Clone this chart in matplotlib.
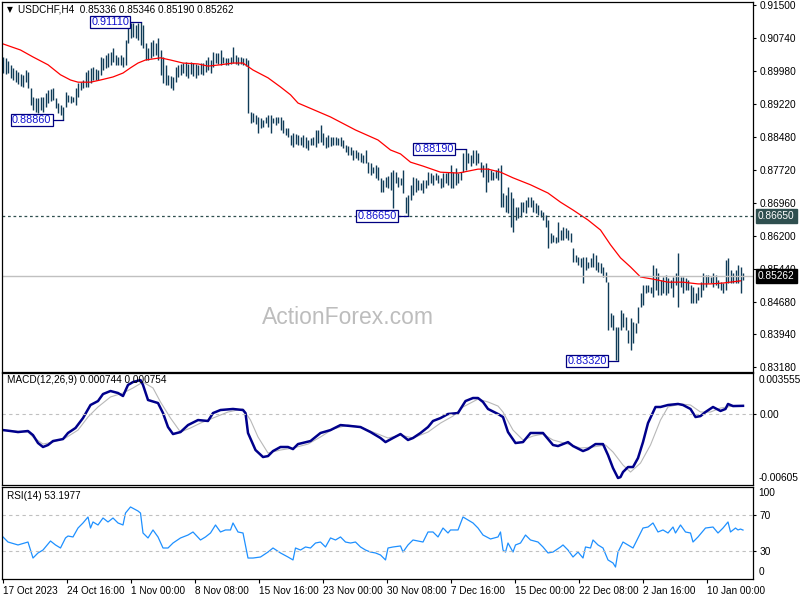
import numpy as np
import matplotlib
matplotlib.use('Agg')
import matplotlib.pyplot as plt
import matplotlib.transforms as mtrans

plt.rcParams['font.family'] = ['Liberation Sans', 'DejaVu Sans']

symbol = 'USDCHF,H4'
last_ohlc = [0.85336, 0.85346, 0.85190, 0.85262]

# H4 bars, high / low
highs = [0.9031, 0.9029, 0.9022, 0.9013, 0.9006, 0.9001, 0.8996, 0.8992, 0.8990, 0.9001,
         0.8996, 0.8960, 0.8939, 0.8937, 0.8937, 0.8939, 0.8939, 0.8948, 0.8955, 0.8957,
         0.8960, 0.8937, 0.8925, 0.8920, 0.8916, 0.8950, 0.8944, 0.8941, 0.8939, 0.8960,
         0.8971, 0.8973, 0.8978, 0.8996, 0.9001, 0.9006, 0.9008, 0.9003, 0.9001, 0.9031,
         0.9029, 0.9036, 0.9040, 0.9042, 0.9052, 0.9036, 0.9031, 0.9036, 0.9031, 0.9070,
         0.9105, 0.9109, 0.9109, 0.9105, 0.9109, 0.9111, 0.9105, 0.9063, 0.9052, 0.9065,
         0.9070, 0.9063, 0.9075, 0.9047, 0.9031, 0.9013, 0.8990, 0.8987, 0.8985, 0.9008,
         0.9013, 0.9015, 0.9017, 0.9019, 0.9015, 0.9019, 0.9017, 0.9015, 0.9013, 0.9017,
         0.9017, 0.9024, 0.9031, 0.9024, 0.9042, 0.9040, 0.9040, 0.9047, 0.9031, 0.9029,
         0.9029, 0.9031, 0.9054, 0.9036, 0.9031, 0.9031, 0.9029, 0.9029, 0.9024, 0.8904,
         0.8902, 0.8897, 0.8893, 0.8891, 0.8886, 0.8893, 0.8897, 0.8897, 0.8891, 0.8893,
         0.8893, 0.8893, 0.8886, 0.8868, 0.8868, 0.8852, 0.8856, 0.8854, 0.8852, 0.8847,
         0.8852, 0.8847, 0.8840, 0.8845, 0.8847, 0.8863, 0.8863, 0.8875, 0.8856, 0.8847,
         0.8852, 0.8847, 0.8847, 0.8847, 0.8845, 0.8847, 0.8840, 0.8829, 0.8826, 0.8824,
         0.8817, 0.8817, 0.8812, 0.8810, 0.8806, 0.8817, 0.8789, 0.8787, 0.8778, 0.8782,
         0.8778, 0.8753, 0.8748, 0.8755, 0.8757, 0.8766, 0.8771, 0.8766, 0.8755, 0.8753,
         0.8771, 0.8709, 0.8714, 0.8737, 0.8755, 0.8753, 0.8748, 0.8741, 0.8748, 0.8748,
         0.8766, 0.8764, 0.8760, 0.8764, 0.8760, 0.8753, 0.8764, 0.8764, 0.8766, 0.8782,
         0.8766, 0.8776, 0.8764, 0.8766, 0.8810, 0.8819, 0.8810, 0.8806, 0.8817, 0.8817,
         0.8810, 0.8789, 0.8782, 0.8787, 0.8776, 0.8771, 0.8766, 0.8771, 0.8776, 0.8782,
         0.8718, 0.8714, 0.8732, 0.8720, 0.8707, 0.8686, 0.8686, 0.8697, 0.8697, 0.8702,
         0.8709, 0.8709, 0.8702, 0.8695, 0.8691, 0.8679, 0.8674, 0.8667, 0.8656, 0.8626,
         0.8622, 0.8617, 0.8651, 0.8633, 0.8640, 0.8638, 0.8633, 0.8626, 0.8592, 0.8576,
         0.8571, 0.8569, 0.8571, 0.8571, 0.8559, 0.8569, 0.8580, 0.8576, 0.8559, 0.8557,
         0.8548, 0.8536, 0.8513, 0.8442, 0.8438, 0.8410, 0.8410, 0.8449, 0.8442, 0.8433,
         0.8403, 0.8431, 0.8421, 0.8419, 0.8456, 0.8488, 0.8507, 0.8507, 0.8507, 0.8502,
         0.8553, 0.8546, 0.8534, 0.8518, 0.8525, 0.8530, 0.8523, 0.8518, 0.8525, 0.8534,
         0.8580, 0.8525, 0.8525, 0.8523, 0.8518, 0.8507, 0.8502, 0.8488, 0.8502, 0.8513,
         0.8534, 0.8530, 0.8530, 0.8525, 0.8534, 0.8530, 0.8518, 0.8513, 0.8511, 0.8564,
         0.8569, 0.8541, 0.8534, 0.8541, 0.8553, 0.8548, 0.85346]
lows = [0.8994, 0.8992, 0.8994, 0.8983, 0.8978, 0.8973, 0.8969, 0.8964, 0.8962, 0.8973,
        0.8960, 0.8920, 0.8909, 0.8904, 0.8902, 0.8909, 0.8904, 0.8916, 0.8925, 0.8930,
        0.8932, 0.8914, 0.8902, 0.8897, 0.8886, 0.8916, 0.8927, 0.8925, 0.8927, 0.8920,
        0.8939, 0.8955, 0.8960, 0.8962, 0.8962, 0.8971, 0.8978, 0.8978, 0.8978, 0.8990,
        0.9001, 0.9006, 0.9008, 0.9013, 0.9019, 0.9013, 0.9013, 0.9013, 0.9008, 0.9013,
        0.9063, 0.9075, 0.9077, 0.9075, 0.9070, 0.9058, 0.9052, 0.9024, 0.9024, 0.9029,
        0.9033, 0.9036, 0.9024, 0.8990, 0.8971, 0.8967, 0.8967, 0.8960, 0.8955, 0.8973,
        0.8985, 0.8990, 0.8994, 0.8987, 0.8983, 0.8992, 0.8987, 0.8983, 0.8990, 0.8992,
        0.8990, 0.8996, 0.9001, 0.8994, 0.9008, 0.9017, 0.9015, 0.9013, 0.9017, 0.9013,
        0.9013, 0.9015, 0.9017, 0.9015, 0.9013, 0.9015, 0.9013, 0.9010, 0.8902, 0.8879,
        0.8881, 0.8877, 0.8856, 0.8868, 0.8870, 0.8879, 0.8870, 0.8856, 0.8879, 0.8875,
        0.8879, 0.8863, 0.8856, 0.8852, 0.8847, 0.8829, 0.8824, 0.8831, 0.8829, 0.8829,
        0.8824, 0.8822, 0.8817, 0.8829, 0.8829, 0.8824, 0.8833, 0.8835, 0.8829, 0.8822,
        0.8824, 0.8826, 0.8829, 0.8829, 0.8829, 0.8826, 0.8822, 0.8812, 0.8806, 0.8806,
        0.8794, 0.8799, 0.8794, 0.8789, 0.8787, 0.8787, 0.8764, 0.8760, 0.8764, 0.8753,
        0.8748, 0.8720, 0.8720, 0.8732, 0.8730, 0.8725, 0.8684, 0.8741, 0.8732, 0.8737,
        0.8718, 0.8672, 0.8665, 0.8702, 0.8714, 0.8720, 0.8725, 0.8725, 0.8718, 0.8730,
        0.8737, 0.8741, 0.8737, 0.8748, 0.8741, 0.8730, 0.8732, 0.8741, 0.8737, 0.8730,
        0.8730, 0.8737, 0.8741, 0.8748, 0.8766, 0.8771, 0.8787, 0.8780, 0.8787, 0.8782,
        0.8787, 0.8766, 0.8755, 0.8720, 0.8743, 0.8748, 0.8748, 0.8753, 0.8748, 0.8686,
        0.8686, 0.8674, 0.8672, 0.8640, 0.8628, 0.8656, 0.8661, 0.8663, 0.8674, 0.8672,
        0.8686, 0.8686, 0.8674, 0.8672, 0.8667, 0.8663, 0.8656, 0.8640, 0.8592, 0.8603,
        0.8605, 0.8603, 0.8605, 0.8610, 0.8610, 0.8615, 0.8610, 0.8605, 0.8559, 0.8559,
        0.8553, 0.8548, 0.8511, 0.8541, 0.8546, 0.8548, 0.8548, 0.8541, 0.8536, 0.8534,
        0.8525, 0.8513, 0.8403, 0.8410, 0.8403, 0.8334, 0.8332, 0.8403, 0.8410, 0.8403,
        0.8373, 0.8357, 0.8373, 0.8396, 0.8419, 0.8456, 0.8461, 0.8488, 0.8490, 0.8488,
        0.8479, 0.8495, 0.8484, 0.8484, 0.8488, 0.8484, 0.8488, 0.8500, 0.8479, 0.8507,
        0.8456, 0.8502, 0.8488, 0.8495, 0.8495, 0.8465, 0.8465, 0.8465, 0.8472, 0.8479,
        0.8495, 0.8502, 0.8511, 0.8511, 0.8502, 0.8507, 0.8500, 0.8495, 0.8488, 0.8495,
        0.8511, 0.8511, 0.8511, 0.8511, 0.8511, 0.8488, 0.85190]

# moving average (red), sampled at bar numbers
ma_idx = [0, 7, 12, 18, 23, 27, 30, 35, 39, 44, 48, 51, 54, 57, 63, 67, 72, 78, 82, 87,
          92, 96, 100, 106, 111, 115, 118, 131, 141, 150, 155, 159, 163, 168, 175, 182,
          184, 190, 194, 199, 204, 211, 218, 223, 228, 234, 239, 243, 247, 251, 255, 260,
          266, 272, 278, 283, 288, 295]
ma_val = [0.9061, 0.9047, 0.9031, 0.9013, 0.8990, 0.8978, 0.8973, 0.8973, 0.8978, 0.8985,
          0.8994, 0.9006, 0.9017, 0.9024, 0.9029, 0.9024, 0.9017, 0.9015, 0.9010, 0.9013,
          0.9017, 0.9017, 0.9001, 0.8983, 0.8962, 0.8944, 0.8925, 0.8893, 0.8863, 0.8840,
          0.8817, 0.8808, 0.8789, 0.8780, 0.8766, 0.8764, 0.8766, 0.8773, 0.8773, 0.8766,
          0.8753, 0.8737, 0.8718, 0.8697, 0.8679, 0.8656, 0.8633, 0.8599, 0.8569, 0.8548,
          0.8525, 0.8520, 0.8513, 0.8513, 0.8509, 0.8509, 0.8511, 0.8516]

macd_idx = [0, 3, 6, 10, 12, 14, 16, 18, 20, 24, 26, 29, 32, 35, 38, 40, 43, 46, 48, 50,
            52, 55, 56, 58, 62, 64, 66, 68, 71, 74, 78, 82, 84, 87, 92, 96, 97, 98, 101, 104,
            106, 108, 111, 114, 116, 118, 123, 127, 131, 135, 139, 143, 147, 151, 153, 156,
            159, 162, 164, 167, 170, 172, 175, 178, 182, 183, 185, 188, 190, 192, 194, 198,
            200, 202, 205, 208, 211, 216, 220, 222, 226, 228, 232, 234, 237, 240, 242, 244,
            246, 247, 248, 250, 252, 254, 256, 258, 261, 263, 266, 270, 272, 275, 277, 279,
            281, 284, 287, 289, 290, 292, 296]
macd_val = [-0.00134, -0.00142, -0.00151, -0.00142, -0.00177, -0.00245, -0.00279, -0.00262,
            -0.00228, -0.00211, -0.00159, -0.00116, -0.00031, 0.00081, 0.00115, 0.00175,
            0.00201, 0.00184, 0.00158, 0.00253, 0.00278, 0.00295, 0.00253, 0.00124, 0.00098,
            0.00012, -0.00108, -0.00168, -0.00151, -0.00091, -0.00048, -0.00056, 0.00012,
            0.00038, 0.00047, 0.00038, 0.00012, -0.00159, -0.00305, -0.00365, -0.00357,
            -0.00314, -0.00279, -0.00279, -0.00297, -0.00254, -0.00228, -0.00159, -0.00134,
            -0.00091, -0.00099, -0.00108, -0.00151, -0.00202, -0.00237, -0.00202, -0.00168,
            -0.00219, -0.00202, -0.00159, -0.00108, -0.00056, -0.00031, 0.00004, 0.00012,
            0.00047, 0.00115, 0.00141, 0.00141, 0.00107, 0.00047, 0.00004, -0.00022,
            -0.00151, -0.00245, -0.00237, -0.00159, -0.00159, -0.00262, -0.00271, -0.00237,
            -0.00271, -0.00314, -0.00297, -0.00254, -0.00254, -0.00348, -0.00460, -0.00545,
            -0.00537, -0.00494, -0.00451, -0.00451, -0.00374, -0.00237, -0.00074, 0.00064,
            0.00064, 0.00081, 0.00090, 0.00081, 0.00047, -0.00022, -0.00014, 0.00021,
            0.00064, 0.00030, 0.00047, 0.00090, 0.00072, 0.00074]
sig_idx = [0, 10, 12, 16, 20, 25, 30, 34, 38, 43, 48, 52, 56, 60, 63, 67, 71, 75, 79, 84,
           90, 96, 99, 102, 106, 111, 116, 122, 127, 132, 138, 143, 148, 154, 159, 164, 170,
           175, 180, 184, 190, 194, 198, 200, 204, 208, 212, 216, 220, 226, 231, 236, 241,
           244, 248, 251, 255, 259, 263, 266, 271, 275, 279, 283, 287, 292, 296]
sig_val = [-0.00134, -0.00151, -0.00193, -0.00254, -0.00237, -0.00202, -0.00134, -0.00022,
           0.00064, 0.00150, 0.00184, 0.00227, 0.00278, 0.00227, 0.00107, -0.00031, -0.00151,
           -0.00116, -0.00074, -0.00031, 0.00021, 0.00047, -0.00048, -0.00193, -0.00331,
           -0.00305, -0.00288, -0.00254, -0.00193, -0.00125, -0.00091, -0.00108, -0.00151,
           -0.00202, -0.00177, -0.00202, -0.00151, -0.00074, -0.00014, 0.00064, 0.00132,
           0.00107, 0.00072, 0.00021, -0.00134, -0.00219, -0.00185, -0.00168, -0.00219,
           -0.00254, -0.00288, -0.00279, -0.00262, -0.00322, -0.00434, -0.00494, -0.00417,
           -0.00262, -0.00048, 0.00064, 0.00090, 0.00081, 0.00021, 0.00021, 0.00055, 0.00072,
           0.000754]

rsi_idx = [0, 2, 6, 10, 12, 14, 16, 17, 19, 21, 23, 25, 26, 28, 30, 32, 34, 35, 36, 38,
           40, 42, 44, 46, 48, 49, 51, 54, 55, 56, 58, 60, 62, 64, 66, 68, 71, 74, 76, 79,
           81, 83, 85, 87, 89, 91, 92, 94, 96, 98, 100, 103, 106, 108, 111, 114, 116, 117,
           119, 121, 123, 125, 127, 129, 131, 133, 135, 137, 139, 141, 143, 145, 147, 149,
           151, 153, 154, 156, 159, 160, 162, 164, 168, 170, 172, 174, 176, 178, 179, 182,
           184, 186, 188, 190, 192, 195, 198, 199, 200, 201, 202, 204, 205, 207, 209, 211,
           214, 216, 218, 220, 223, 224, 226, 228, 230, 232, 233, 235, 236, 238, 240, 242,
           244, 245, 246, 248, 250, 252, 254, 256, 258, 260, 262, 264, 266, 268, 269, 271,
           273, 275, 276, 278, 281, 284, 286, 288, 290, 291, 293, 294, 295, 296]
rsi_val = [45.7, 40.2, 37.0, 40.2, 22.8, 28.3, 31.5, 34.8, 41.3, 37.0, 33.7, 44.6, 46.7,
           45.7, 55.4, 60.9, 67.4, 55.4, 62.0, 58.7, 66.3, 62.0, 66.3, 60.9, 58.7, 71.7,
           78.3, 73.9, 71.7, 50.0, 44.6, 53.3, 45.7, 33.7, 33.7, 39.1, 44.6, 47.8, 51.1,
           42.4, 45.7, 50.0, 58.7, 51.1, 53.3, 53.3, 60.9, 51.1, 50.0, 22.8, 22.8, 23.9,
           29.3, 33.7, 28.3, 23.9, 20.7, 33.7, 31.5, 34.8, 33.7, 39.1, 40.2, 34.8, 44.6,
           42.4, 45.7, 40.2, 39.1, 40.2, 34.8, 31.5, 29.3, 28.3, 26.1, 20.7, 33.7, 34.8,
           35.9, 29.3, 37.0, 42.4, 40.2, 51.1, 51.1, 45.7, 55.4, 50.0, 53.3, 53.3, 67.4,
           64.1, 60.9, 55.4, 47.8, 43.5, 45.7, 51.1, 31.5, 29.3, 39.1, 29.3, 37.0, 39.1,
           47.8, 42.4, 40.2, 34.8, 28.3, 29.3, 34.8, 37.0, 31.5, 23.9, 29.3, 22.8, 34.8,
           33.7, 42.4, 37.0, 33.7, 20.7, 17.4, 13.0, 29.3, 40.2, 37.0, 33.7, 44.6, 55.4,
           56.5, 60.9, 51.1, 53.3, 50.0, 56.5, 50.0, 58.7, 51.1, 50.0, 40.2, 45.7, 55.4,
           56.5, 50.0, 55.4, 62.0, 51.1, 55.4, 53.3, 54.3, 53.1977]

price_ticks = [0.91500, 0.90740, 0.89980, 0.89220, 0.88480, 0.87720, 0.86960, 0.86200,
               0.85440, 0.84680, 0.83940, 0.83180]
date_labels = ['17 Oct 2023', '24 Oct 16:00', '1 Nov 00:00', '8 Nov 08:00', '15 Nov 16:00',
               '23 Nov 00:00', '30 Nov 08:00', '7 Dec 16:00', '15 Dec 00:00', '22 Dec 08:00',
               '2 Jan 16:00', '10 Jan 00:00']
swing_idx = [55, 24, 185, 162, 246]
swing_val = [0.91110, 0.88860, 0.88190, 0.86650, 0.83320]
support = 0.86650
macd_last = [0.000744, 0.000754]
macd_lim = [-0.00605, 0.003555]

bar_c = '#0f3b57'
fs = 7.3

fig = plt.figure(figsize=(8, 6), dpi=100)
W = 751 / 800
ax = fig.add_axes([2 / 800, 1 - 372 / 600, W, 370 / 600])
ax2 = fig.add_axes([2 / 800, 1 - 485 / 600, W, 112 / 600], sharex=ax)
ax3 = fig.add_axes([2 / 800, 1 - 579 / 600, W, 92 / 600], sharex=ax)

for a in (ax, ax2, ax3):
    for s in a.spines.values():
        s.set_color('black')
        s.set_linewidth(0.9)
    a.yaxis.tick_right()
    a.tick_params(axis='y', direction='out', length=2.5, width=0.8, pad=2, labelsize=fs)
    a.tick_params(axis='x', bottom=False, labelbottom=False)

# price panel
idx = np.arange(len(highs))
ax.vlines(idx, lows, highs, color=bar_c, lw=1.0)
ax.plot(ma_idx, ma_val, color='red', lw=0.9)
ax.axhline(support, color='#2f4f4f', lw=0.9, ls=(0, (2.2, 2.2)))
ax.axhline(last_ohlc[3], color='#c0c0c0', lw=1.0)
ax.set_xlim(-0.4, 300)
ax.set_ylim(0.83064, 0.91574)
ax.set_yticks(price_ticks)
ax.set_yticklabels(['%.5f' % v for v in price_ticks])

for i, v in zip(swing_idx, swing_val):
    ax.plot([i - 4, i], [v, v], color='#000080', lw=0.9)
    ax.text(i - 4.6, v, '%.5f' % v, ha='right', va='center', fontsize=7.8, color='#1010d0',
            bbox=dict(boxstyle='square,pad=0.12', fc='white', ec='#000080', lw=0.9))

ytr = mtrans.blended_transform_factory(ax.transAxes, ax.transData)
for v, bg in [(support, '#2f4f4f'), (last_ohlc[3], 'black')]:
    ax.text(1.0065, v, '%.5f' % v, transform=ytr, ha='left', va='center', fontsize=fs,
            color='white', bbox=dict(boxstyle='square,pad=0.2', fc=bg, ec=bg))

fig.text(7 / 800, 1 - 10 / 600, '\u25bc', fontsize=5.5, ha='left', va='center', color='black',
         family='DejaVu Sans')
fig.text(18 / 800, 1 - 10 / 600,
         symbol + '  ' + ' '.join('%.5f' % v for v in last_ohlc),
         fontsize=7.2, ha='left', va='center', color='black')
fig.text(348 / 800, 1 - 318 / 600, 'ActionForex.com', fontsize=16.5, ha='center', va='center',
         color='#bdbdbd')

# MACD panel
ax2.plot(sig_idx, sig_val, color='#b8b8b8', lw=0.8)
ax2.plot(macd_idx, macd_val, color='#00008b', lw=1.8)
ax2.axhline(0, color='#c0c0c0', lw=0.8, ls=(0, (3, 3)))
ax2.set_ylim(macd_lim)
ax2.set_yticks([0])
ax2.set_yticklabels(['0.00'])
ax2.text(1.007, 0.985, '%.6f' % macd_lim[1], transform=ax2.transAxes, ha='left', va='top',
         fontsize=fs)
ax2.text(1.007, 0.02, '%.5f' % macd_lim[0], transform=ax2.transAxes, ha='left', va='bottom',
         fontsize=fs)
ax2.text(0.006, 0.935, 'MACD(12,26,9) %.6f %.6f' % tuple(macd_last), transform=ax2.transAxes,
         ha='left', va='center', fontsize=7.2)

# RSI panel
ax3.plot(rsi_idx, rsi_val, color='#1e90ff', lw=0.9)
for lv in (70, 30):
    ax3.axhline(lv, color='#c0c0c0', lw=0.8, ls=(0, (3, 3)))
ax3.set_ylim(0, 100)
ax3.set_yticks([70, 30])
ax3.set_yticklabels(['70', '30'])
ax3.text(1.007, 0.985, '100', transform=ax3.transAxes, ha='left', va='top', fontsize=fs)
ax3.text(1.007, 0.02, '0', transform=ax3.transAxes, ha='left', va='bottom', fontsize=fs)
ax3.text(0.006, 0.9, 'RSI(14) %.4f' % rsi_val[-1], transform=ax3.transAxes, ha='left',
         va='center', fontsize=7.2)

ax3.set_xticks([k * 25.6 for k in range(len(date_labels))])
ax3.set_xticklabels(date_labels)
ax3.tick_params(axis='x', bottom=True, labelbottom=True, direction='out', length=3, width=0.8,
                pad=2, labelsize=7.2)
for t in ax3.get_xticklabels():
    t.set_horizontalalignment('left')
ax3.set_xlim(-0.4, 300)

fig.savefig('out.png', dpi=100, facecolor='white')
